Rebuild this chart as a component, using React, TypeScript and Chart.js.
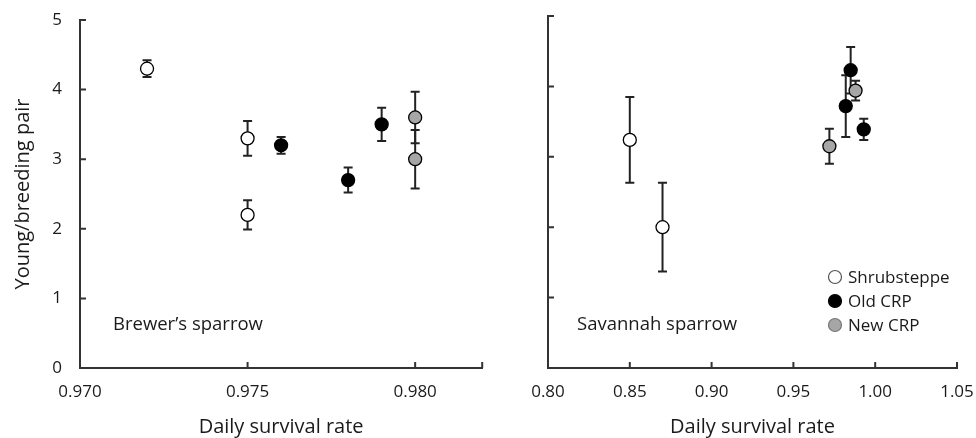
import { useEffect, useRef } from 'react';
import { Chart, registerables } from 'chart.js';
Chart.register(...registerables);

const FONT = '"Open Sans", sans-serif';
const TEXT = '#1a1a1a';
const AXIS = '#333333';

// Brewer's sparrow
const brewerShrubX = [0.972, 0.975, 0.975];
const brewerShrubY = [4.3, 3.3, 2.2];
const brewerShrubErr = [0.12, 0.25, 0.21];
const brewerOldX = [0.976, 0.978, 0.979];
const brewerOldY = [3.2, 2.7, 3.5];
const brewerOldErr = [0.12, 0.18, 0.24];
const brewerNewX = [0.98, 0.98];
const brewerNewY = [3.6, 3.0];
const brewerNewErr = [0.37, 0.42];

// Savannah sparrow
const savShrubX = [0.85, 0.87];
const savShrubY = [3.24, 2.0];
const savShrubErr = [0.61, 0.63];
const savOldX = [0.985, 0.982, 0.993];
const savOldY = [4.23, 3.72, 3.39];
const savOldErr = [0.33, 0.44, 0.15];
const savNewX = [0.972, 0.988];
const savNewY = [3.15, 3.94];
const savNewErr = [0.25, 0.14];

const yTicks = [0, 1, 2, 3, 4, 5];
const brewerXTicks = [0.97, 0.975, 0.98];
const savXTicks = [0.8, 0.85, 0.9, 0.95, 1.0, 1.05];

const seriesNames = ['Shrubsteppe', 'Old CRP', 'New CRP'];
const seriesFill = ['#ffffff', '#000000', '#a6a6a6'];
const legendBorder = ['#555555', '#000000', '#777777'];

const pts = (xs: number[], ys: number[], es: number[]) =>
  xs.map((x, i) => ({ x, y: ys[i], e: es[i] }));

const panelPlugin = {
  id: 'panel',
  beforeDatasetsDraw(chart: any) {
    const { ctx } = chart;
    const x = chart.scales.x;
    const y = chart.scales.y;
    ctx.save();
    ctx.strokeStyle = '#222222';
    ctx.lineWidth = 2;
    chart.data.datasets.forEach((ds: any) => {
      ds.data.forEach((p: any) => {
        const px = x.getPixelForValue(p.x);
        const top = y.getPixelForValue(p.y + p.e);
        const bot = y.getPixelForValue(p.y - p.e);
        ctx.beginPath();
        ctx.moveTo(px, top);
        ctx.lineTo(px, bot);
        ctx.moveTo(px - 4.5, top);
        ctx.lineTo(px + 4.5, top);
        ctx.moveTo(px - 4.5, bot);
        ctx.lineTo(px + 4.5, bot);
        ctx.stroke();
      });
    });
    ctx.restore();
  },
  afterDraw(chart: any, _args: any, opts: any) {
    const { ctx, chartArea } = chart;
    const { left, right, top, bottom } = chartArea;
    const x = chart.scales.x;
    const y = chart.scales.y;
    ctx.save();
    ctx.strokeStyle = AXIS;
    ctx.lineWidth = 2;
    ctx.beginPath();
    (opts.xTicks as number[]).forEach((v) => {
      const px = x.getPixelForValue(v);
      if (px - left < 2) return;
      ctx.moveTo(px, bottom);
      ctx.lineTo(px, bottom - 6);
    });
    ctx.moveTo(right, bottom);
    ctx.lineTo(right, bottom - 6);
    yTicks.forEach((v) => {
      const py = y.getPixelForValue(v);
      if (bottom - py < 2) return;
      ctx.moveTo(left, py);
      ctx.lineTo(left + 6, py);
    });
    ctx.stroke();

    ctx.fillStyle = TEXT;
    // x title
    ctx.font = `20px ${FONT}`;
    ctx.textAlign = 'center';
    ctx.textBaseline = 'alphabetic';
    ctx.fillText('Daily survival rate', (left + right) / 2, 433);

    // y title
    if (opts.yTitle) {
      ctx.save();
      ctx.translate(23, (top + bottom) / 2);
      ctx.rotate(-Math.PI / 2);
      ctx.textAlign = 'center';
      ctx.textBaseline = 'middle';
      ctx.fillText(opts.yTitle, 0, 0);
      ctx.restore();
    }

    // panel label
    ctx.font = `18.5px ${FONT}`;
    ctx.textAlign = 'left';
    ctx.textBaseline = 'alphabetic';
    ctx.fillText(opts.label, opts.labelX, 330);

    // legend
    if (opts.legend) {
      const lx = opts.legendX;
      const ly = [277, 301, 325];
      ctx.font = `17px ${FONT}`;
      ctx.textBaseline = 'middle';
      chart.data.datasets.forEach((ds: any, i: number) => {
        ctx.beginPath();
        ctx.arc(lx, ly[i], 6.5, 0, Math.PI * 2);
        ctx.fillStyle = ds.backgroundColor;
        ctx.fill();
        ctx.lineWidth = 1.2;
        ctx.strokeStyle = legendBorder[i];
        ctx.stroke();
        ctx.fillStyle = TEXT;
        ctx.fillText(ds.label, lx + 13, ly[i] + 1);
      });
    }
    ctx.restore();
  },
};

function makeConfig(p: {
  data: any[][];
  xMin: number;
  xMax: number;
  xTicks: number[];
  decimals: number;
  yAxisWidth: number;
  showYLabels: boolean;
  padTop: number;
  padRight: number;
  label: string;
  labelX: number;
  legend: boolean;
  legendX: number;
  yTitle: string;
}): any {
  return {
    type: 'scatter',
    data: {
      datasets: p.data.map((d, i) => ({
        label: seriesNames[i],
        data: d,
        backgroundColor: seriesFill[i],
        borderColor: '#000000',
        borderWidth: 1.3,
        pointRadius: 6.5,
        pointHoverRadius: 6.5,
      })),
    },
    options: {
      responsive: false,
      animation: false,
      layout: { padding: { top: p.padTop, right: p.padRight, left: 0, bottom: 0 } },
      plugins: {
        legend: { display: false },
        tooltip: { enabled: false },
        panel: {
          xTicks: p.xTicks,
          label: p.label,
          labelX: p.labelX,
          legend: p.legend,
          legendX: p.legendX,
          yTitle: p.yTitle,
        },
      },
      scales: {
        x: {
          type: 'linear',
          min: p.xMin,
          max: p.xMax,
          grid: { display: false, drawTicks: false },
          border: { display: true, color: AXIS, width: 2 },
          afterBuildTicks: (s: any) => {
            s.ticks = p.xTicks.map((v) => ({ value: v }));
          },
          afterFit: (s: any) => {
            s.height = 70;
            s.paddingLeft = 0;
            s.paddingRight = 0;
          },
          ticks: {
            color: TEXT,
            font: { family: FONT, size: 17 },
            padding: 14,
            maxRotation: 0,
            autoSkip: false,
            callback: (v: any) => Number(v).toFixed(p.decimals),
          },
        },
        y: {
          type: 'linear',
          min: 0,
          max: 5,
          grid: { display: false, drawTicks: false },
          border: { display: true, color: AXIS, width: 2 },
          afterBuildTicks: (s: any) => {
            s.ticks = yTicks.map((v) => ({ value: v }));
          },
          afterFit: (s: any) => {
            s.width = p.yAxisWidth;
            s.paddingTop = 0;
            s.paddingBottom = 0;
          },
          ticks: {
            display: p.showYLabels,
            color: TEXT,
            font: { family: FONT, size: 17 },
            padding: 18,
            autoSkip: false,
          },
        },
      },
    },
    plugins: [panelPlugin],
  };
}

export default function App() {
  const ref1 = useRef<HTMLCanvasElement>(null);
  const ref2 = useRef<HTMLCanvasElement>(null);

  useEffect(() => {
    document.body.style.margin = '0';
    const c1 = new Chart(
      ref1.current!,
      makeConfig({
        data: [
          pts(brewerShrubX, brewerShrubY, brewerShrubErr),
          pts(brewerOldX, brewerOldY, brewerOldErr),
          pts(brewerNewX, brewerNewY, brewerNewErr),
        ],
        xMin: 0.97,
        xMax: 0.982,
        xTicks: brewerXTicks,
        decimals: 3,
        yAxisWidth: 80,
        showYLabels: true,
        padTop: 20,
        padRight: 1,
        label: 'Brewer\u2019s sparrow',
        labelX: 113,
        legend: false,
        legendX: 0,
        yTitle: 'Young/breeding pair',
      })
    );
    const c2 = new Chart(
      ref2.current!,
      makeConfig({
        data: [
          pts(savShrubX, savShrubY, savShrubErr),
          pts(savOldX, savOldY, savOldErr),
          pts(savNewX, savNewY, savNewErr),
        ],
        xMin: 0.8,
        xMax: 1.05,
        xTicks: savXTicks,
        decimals: 2,
        yAxisWidth: 58,
        showYLabels: false,
        padTop: 16,
        padRight: 19,
        label: 'Savannah sparrow',
        labelX: 87,
        legend: true,
        legendX: 345,
        yTitle: '',
      })
    );
    return () => {
      c1.destroy();
      c2.destroy();
    };
  }, []);

  return (
    <div style={{ display: 'flex', width: 976, height: 438, background: '#fff' }}>
      <canvas ref={ref1} width={490} height={438} style={{ display: 'block' }} />
      <canvas ref={ref2} width={486} height={438} style={{ display: 'block' }} />
    </div>
  );
}
